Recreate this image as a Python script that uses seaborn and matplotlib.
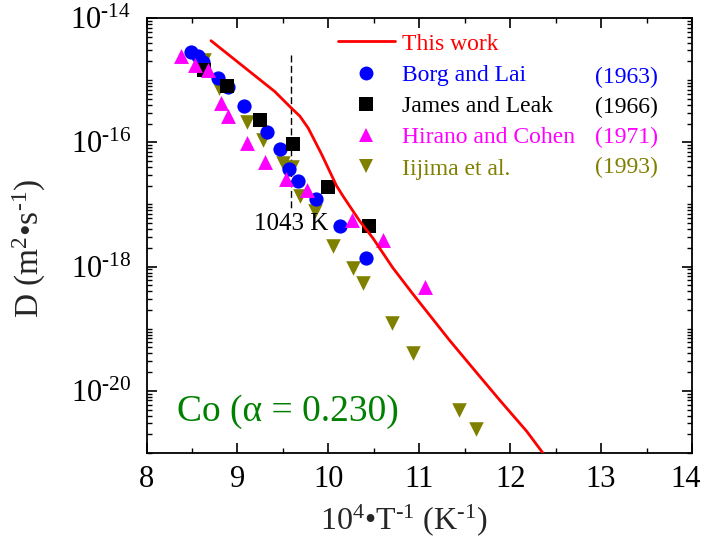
import numpy as np
import pandas as pd
import matplotlib
matplotlib.use("Agg")
import matplotlib.pyplot as plt
import matplotlib.transforms as mtransforms
import seaborn as sns
from matplotlib.lines import Line2D
from matplotlib.ticker import FixedLocator, LogLocator, MultipleLocator, FuncFormatter, NullFormatter

# ---- data: x = 10^4/T (K^-1), values = log10 D (m^2/s) ----
model_x = [8.709, 9.412, 9.577, 9.687, 9.778, 9.925, 10.090, 10.163, 10.346, 10.489,
           10.709, 10.929, 11.335, 11.632, 11.885, 12.181, 12.37]
model_logd = [-14.365, -15.185, -15.426, -15.58, -15.77, -16.19, -16.70, -16.87, -17.27, -17.54,
              -18.02, -18.44, -19.19, -19.71, -20.15, -20.65, -21.02]

borg_x = [8.486, 8.569, 8.621, 8.789, 8.892, 9.071, 9.330, 9.467, 9.571, 9.668, 9.868, 10.126, 10.412]
borg_logd = [-14.542, -14.606, -14.707, -14.960, -15.105, -15.410, -15.833, -16.111, -16.432,
             -16.621, -16.907, -17.355, -17.863]

james_x = [8.632, 8.888, 9.244, 9.607, 10.000, 10.448]
james_logd = [-14.844, -15.093, -15.635, -16.021, -16.725, -17.344]

hirano_x = [8.379, 8.533, 8.676, 8.819, 8.899, 9.101, 9.308, 9.533, 9.767, 10.255, 10.596, 11.060]
hirano_logd = [-14.619, -14.764, -14.836, -15.371, -15.576, -16.010, -16.315, -16.596, -16.760,
               -17.248, -17.569, -18.330]

iijima_x = [8.635, 8.797, 9.101, 9.284, 9.503, 9.596, 9.687, 9.852, 10.046, 10.266, 10.376,
            10.695, 10.932, 11.437, 11.621]
iijima_logd = [-14.675, -15.130, -15.667, -15.961, -16.326, -16.391, -16.862, -17.103, -17.677,
               -18.024, -18.265, -18.908, -19.391, -20.302, -20.608]

series_names = ["This work", "Borg and Lai", "James and Leak", "Hirano and Cohen", "Iijima et al."]
series_years = ["(1963)", "(1966)", "(1971)", "(1993)"]
series_colors = ["#ff0000", "#0000ff", "#000000", "#ff00ff", "#808000"]

transition_x = 10000 / 1043.0
transition_logd = [-14.595, -17.09]

x_ticks = [8, 9, 10, 11, 12, 13, 14]
y_major = [1e-20, 1e-18, 1e-16, 1e-14]

# ---- style ----
sns.set_theme(style="ticks")
plt.rcParams["font.family"] = ["Liberation Serif", "DejaVu Serif"]
plt.rcParams["mathtext.fontset"] = "custom"
plt.rcParams["mathtext.rm"] = "Liberation Serif"
plt.rcParams["mathtext.it"] = "Liberation Serif:italic"
plt.rcParams["mathtext.bf"] = "Liberation Serif:bold"
plt.rcParams["mathtext.default"] = "regular"

fig = plt.figure(figsize=(7.04, 5.39), dpi=100)
ax = fig.add_axes([0.2081, 0.1596, 0.7749, 0.807])
ax.set_yscale("log")

def to_frame(x, logd):
    return pd.DataFrame({"x": x, "D": np.power(10.0, np.asarray(logd))})

# measured data sets
sns.scatterplot(data=to_frame(iijima_x, iijima_logd), x="x", y="D", marker="v", s=110,
                color=series_colors[4], linewidth=0, ax=ax, legend=False, zorder=3)
sns.scatterplot(data=to_frame(borg_x, borg_logd), x="x", y="D", marker="o", s=105,
                color=series_colors[1], linewidth=0, ax=ax, legend=False, zorder=4)
sns.scatterplot(data=to_frame(james_x, james_logd), x="x", y="D", marker="s", s=90,
                color=series_colors[2], linewidth=0, ax=ax, legend=False, zorder=5)
sns.scatterplot(data=to_frame(hirano_x, hirano_logd), x="x", y="D", marker="^", s=115,
                color=series_colors[3], linewidth=0, ax=ax, legend=False, zorder=6)

# calculated curve
sns.lineplot(data=to_frame(model_x, model_logd), x="x", y="D", sort=False, estimator=None,
             color=series_colors[0], linewidth=2.0, ax=ax, legend=False, zorder=7)

# 1043 K marker
ax.plot([transition_x, transition_x], np.power(10.0, transition_logd), color="black",
        linewidth=1.0, linestyle=(0, (5, 2.5)), zorder=2)
ax.text(transition_x, 10 ** -17.31, "1043 K", ha="center", va="center", fontsize=18, color="black")

ax.text(0.056, 0.095, "Co (α = 0.230)", transform=ax.transAxes, ha="left", va="center",
        fontsize=27, color="#008000")

# axes
ax.set_xlim(8, 14)
ax.set_ylim(1e-21, 1e-14)
ax.xaxis.set_major_locator(FixedLocator(x_ticks))
ax.xaxis.set_minor_locator(MultipleLocator(0.5))
ax.yaxis.set_major_locator(FixedLocator(y_major))
ax.yaxis.set_minor_locator(LogLocator(base=10, subs=np.arange(1, 10), numticks=100))
ax.yaxis.set_minor_formatter(NullFormatter())
ax.yaxis.set_major_formatter(
    FuncFormatter(lambda v, p: r"$10^{\text{-}%d}$" % abs(int(round(np.log10(v))))))

ax.tick_params(which="both", direction="in", top=True, right=True, labelsize=22, colors="black")
ax.tick_params(which="major", length=7, width=1.2)
ax.tick_params(which="minor", length=3.5, width=1.0)
ax.tick_params(axis="x", which="major", pad=8.5)
ax.tick_params(axis="y", which="major", pad=11)
for sp in ax.spines.values():
    sp.set_linewidth(1.3)
    sp.set_color("black")

ax.set_xlabel(r"10$^{4}$•T$^{\text{-}1}$ (K$^{\text{-}1}$)", fontsize=23)
ax.set_ylabel(r"D (m$^{2}$•s$^{\text{-}1}$)", fontsize=24)
ax.xaxis.set_label_coords(0.472, -0.113)
ax.yaxis.set_label_coords(-0.18, 0.47)

# keep the last x tick label inside the canvas
fig.canvas.draw()
last_lbl = ax.get_xticklabels()[-1]
last_lbl.set_transform(last_lbl.get_transform()
                       + mtransforms.ScaledTranslation(-6 / 100, 0, fig.dpi_scale_trans))

# legend
handles = [
    Line2D([], [], color=series_colors[0], linewidth=2.0),
    Line2D([], [], linestyle="none", marker="o", markersize=10, markeredgewidth=0, color=series_colors[1]),
    Line2D([], [], linestyle="none", marker="s", markersize=9.5, markeredgewidth=0, color=series_colors[2]),
    Line2D([], [], linestyle="none", marker="^", markersize=10.5, markeredgewidth=0, color=series_colors[3]),
    Line2D([], [], linestyle="none", marker="v", markersize=10.5, markeredgewidth=0, color=series_colors[4]),
]
leg = ax.legend(handles, series_names, loc="upper left", bbox_to_anchor=(0.351, 0.965),
                frameon=False, fontsize=17, handlelength=2.4, handletextpad=0.3,
                labelspacing=0.41, borderpad=0, borderaxespad=0)
for txt, col in zip(leg.get_texts(), series_colors):
    txt.set_color(col)

year_rows = [0.864, 0.795, 0.726, 0.657]
for yr, yy, col in zip(series_years, year_rows, series_colors[1:]):
    ax.text(0.9377, yy, yr, transform=ax.transAxes, ha="right", va="center", fontsize=17, color=col)

fig.savefig("out.png", dpi=100)
